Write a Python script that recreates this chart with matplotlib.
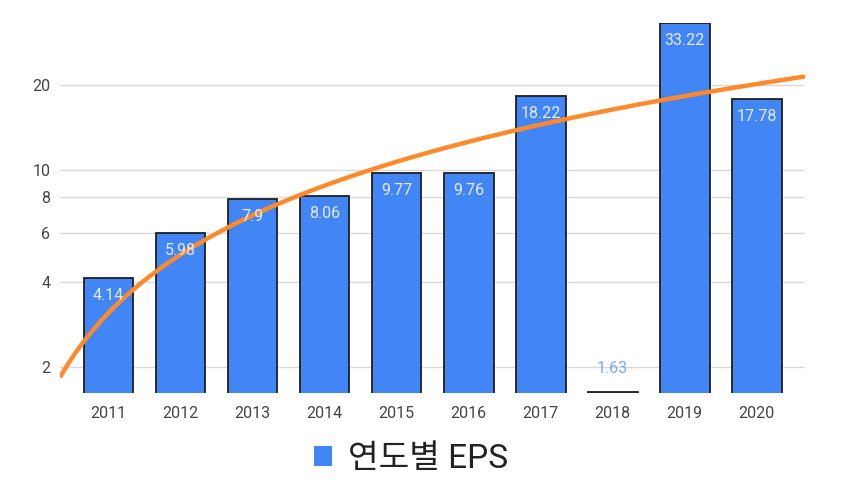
import numpy as np
import matplotlib
matplotlib.use('Agg')
import matplotlib.pyplot as plt
from matplotlib.patches import Patch

plt.rcParams['font.family'] = ['Roboto', 'Noto Sans CJK KR', 'DejaVu Sans']

years = ['2011', '2012', '2013', '2014', '2015', '2016', '2017', '2018', '2019', '2020']
eps = [4.14, 5.98, 7.9, 8.06, 9.77, 9.76, 18.22, 1.63, 33.22, 17.78]
y_ticks = [2, 4, 6, 8, 10, 20]
legend_label = '연도별 EPS'

bar_color = '#4285F4'
trend_color = '#FF8A2B'

fig = plt.figure(figsize=(8.48, 5.0), dpi=100)
ax = fig.add_axes([60 / 848, 107 / 500, 745 / 848, 370.5 / 500])

x = np.arange(len(years))
bars = ax.bar(x, eps, width=0.69, color=bar_color, edgecolor='#1f1f1f',
              linewidth=1.3, zorder=2)

ax.set_yscale('log')
ax.set_ylim(1.623, 33.3)
ax.set_xlim(-0.674, len(years) - 1 + 0.67)

# linear trendline (x = 1..n), drawn on the log axis
coef = np.polyfit(x + 1, eps, 1)
xs = np.linspace(ax.get_xlim()[0], ax.get_xlim()[1], 200)
ax.plot(xs, np.polyval(coef, xs + 1), color=trend_color, linewidth=3.2,
        solid_capstyle='butt', zorder=3)

# data labels
for xi, v in zip(x, eps):
    if v < 2:
        ax.annotate('{:g}'.format(v), (xi, v), xytext=(0, 17), textcoords='offset points',
                    ha='center', va='center', fontsize=11.5, color='#7BAAF7', zorder=5)
    else:
        ax.annotate('{:g}'.format(v), (xi, v), xytext=(0, -12.5), textcoords='offset points',
                    ha='center', va='center', fontsize=11.5, color='#E3ECFD', zorder=5)

ax.set_yticks(y_ticks)
ax.set_yticklabels([str(t) for t in y_ticks])
ax.yaxis.set_minor_locator(matplotlib.ticker.NullLocator())
ax.set_xticks(x)
ax.set_xticklabels(years)
ax.tick_params(axis='both', length=0, labelsize=11.5, labelcolor='#444444')
ax.tick_params(axis='x', pad=9)
ax.tick_params(axis='y', pad=7)
ax.grid(axis='y', color='#D9D9D9', linewidth=1, zorder=0)
ax.set_axisbelow(True)
for s in ax.spines.values():
    s.set_visible(False)

fig.legend(handles=[Patch(facecolor=bar_color, edgecolor='none', label=legend_label)],
           loc='center', bbox_to_anchor=(0.485, 0.082), frameon=False, fontsize=24,
           handlelength=0.52, handleheight=0.52, handletextpad=0.5,
           labelcolor='#222222')

fig.savefig('out.png', dpi=100)
